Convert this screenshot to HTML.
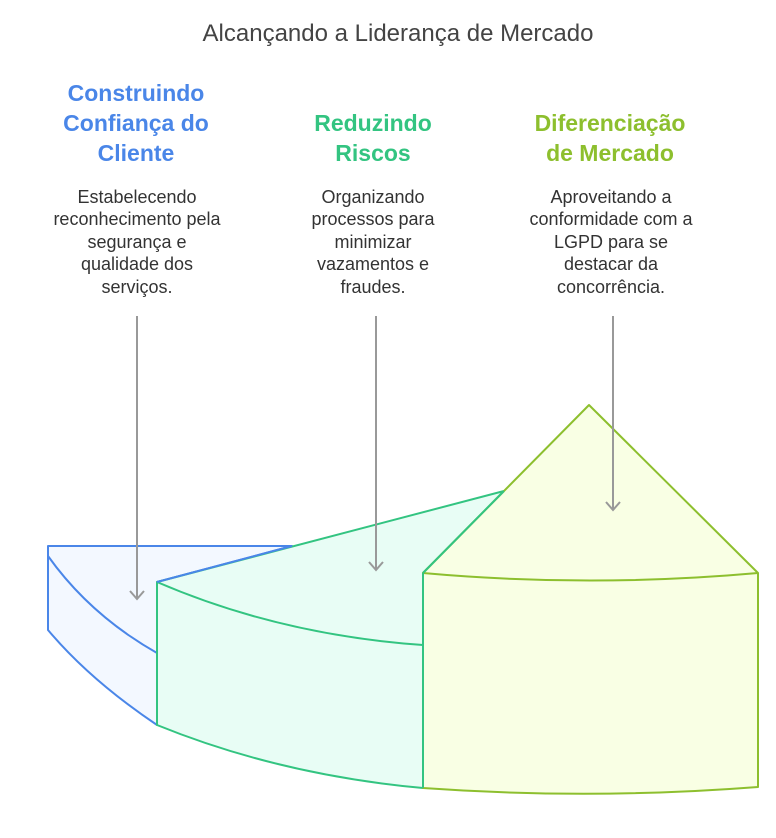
<!DOCTYPE html>
<html><head><meta charset="utf-8"><style>
html,body{margin:0;padding:0;background:#fff;}
svg{display:block;}
text{font-family:"Liberation Sans",Arial,sans-serif;}
.h{font-weight:bold;font-size:23px;text-anchor:middle;}
.b{font-size:18px;fill:#333;text-anchor:middle;}
</style></head><body>
<svg width="776" height="838" viewBox="0 0 776 838" xmlns="http://www.w3.org/2000/svg">
<text x="398" y="41" style="font-size:24px;fill:#444;text-anchor:middle">Alcançando a Liderança de Mercado</text>

<g fill="#4a86e8">
<text class="h" x="136" y="101">Construindo</text>
<text class="h" x="136" y="131">Confiança do</text>
<text class="h" x="136" y="161">Cliente</text>
</g>
<g fill="#33c481">
<text class="h" x="373" y="131">Reduzindo</text>
<text class="h" x="373" y="161">Riscos</text>
</g>
<g fill="#8dbf2e">
<text class="h" x="610" y="131">Diferenciação</text>
<text class="h" x="610" y="161">de Mercado</text>
</g>

<text class="b" x="137" y="203">Estabelecendo</text>
<text class="b" x="137" y="225">reconhecimento pela</text>
<text class="b" x="137" y="248">segurança e</text>
<text class="b" x="137" y="270">qualidade dos</text>
<text class="b" x="137" y="293">serviços.</text>

<text class="b" x="373" y="203">Organizando</text>
<text class="b" x="373" y="225">processos para</text>
<text class="b" x="373" y="248">minimizar</text>
<text class="b" x="373" y="270">vazamentos e</text>
<text class="b" x="373" y="293">fraudes.</text>

<text class="b" x="611" y="203">Aproveitando a</text>
<text class="b" x="611" y="225">conformidade com a</text>
<text class="b" x="611" y="248">LGPD para se</text>
<text class="b" x="611" y="270">destacar da</text>
<text class="b" x="611" y="293">concorrência.</text>

<path d="M48,546 L292,546 L157,582 L157,725 Q90,680 48,630 Z" fill="#f3f8ff" stroke="#4a86e8" stroke-width="2" stroke-linejoin="round"/>
<path d="M48,556 Q90,615 157,653" fill="none" stroke="#4a86e8" stroke-width="2"/>
<path d="M157,582 L504,491 L423,573 L423,788 Q280,775 157,725 Z" fill="#e8fdf5" stroke="#33c481" stroke-width="2" stroke-linejoin="round"/>
<path d="M157,582 Q280,635 423,645" fill="none" stroke="#33c481" stroke-width="2"/>
<path d="M157,582 L292,546" fill="none" stroke="#4a86e8" stroke-width="2"/>
<path d="M423,573 L589,405 L758,573 L758,787 Q590,800 423,788 Z" fill="#f9ffe4" stroke="#8dbf2e" stroke-width="2" stroke-linejoin="round"/>
<path d="M423,573 Q590,588 758,573" fill="none" stroke="#8dbf2e" stroke-width="2"/>
<path d="M423,573 L504,491 M423,573 L423,788" fill="none" stroke="#33c481" stroke-width="2"/>

<g stroke="#999" stroke-width="2" fill="none">
<path d="M137,316 L137,599 M130,591 L137,599 L144,591"/>
<path d="M376,316 L376,570 M369,562 L376,570 L383,562"/>
<path d="M613,316 L613,510 M606,502 L613,510 L620,502"/>
</g>
</svg>
</body></html>
